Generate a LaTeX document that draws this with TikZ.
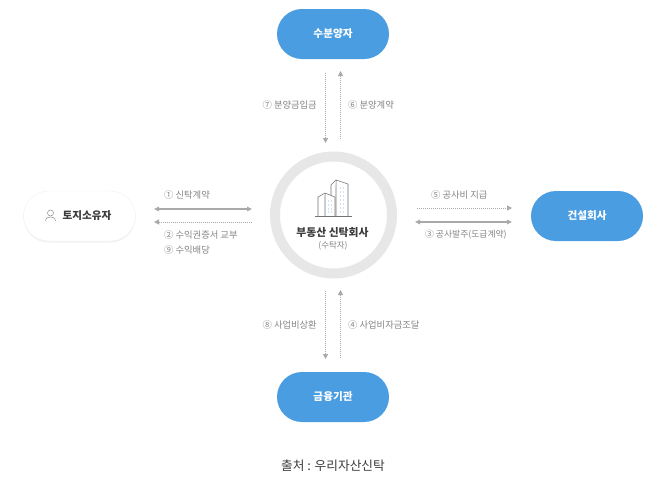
\documentclass[tikz,border=0pt]{standalone}
\usepackage{fontspec}
\setmainfont{Noto Sans CJK KR}
\usetikzlibrary{arrows.meta,shadows}
\definecolor{pillblue}{HTML}{4A9DE1}
\definecolor{ringgray}{HTML}{E7E7E7}
\definecolor{arrowgray}{HTML}{A9A9A9}
\definecolor{labelgray}{HTML}{858585}
\definecolor{darktxt}{HTML}{3C3C3C}
\definecolor{winblue}{HTML}{CFE2F3}
\tikzset{
  pill/.style={draw=none, fill=pillblue, rounded corners=25pt, minimum width=112pt, minimum height=50pt, text=white, font=\fontsize{10.6}{12}\selectfont\bfseries},
  owner/.style={pill, fill=white, draw=black!6, text=darktxt, drop shadow={shadow xshift=0pt, shadow yshift=-1.5pt, opacity=.1}},
  lbl/.style={text=labelgray, font=\fontsize{9.3}{11}\selectfont, inner sep=0pt},
  solidarr/.style={draw=arrowgray, line width=1.2pt, {Triangle[length=5pt,width=4.5pt]}-{Triangle[length=5pt,width=4.5pt]}},
  dotarr/.style={draw=arrowgray, line width=1pt, dash pattern=on 1pt off 1pt, -{Triangle[length=5pt,width=5pt,fill=arrowgray]}},
  bldg/.style={draw=black!55, line width=.55pt, fill=white, line join=round}}
\begin{document}
\begin{tikzpicture}[x=1pt, y=-1pt]
\useasboundingbox (0,0) rectangle (672,483);
\fill[white] (0,0) rectangle (672,483);
% pills
\node[pill] (buyer) at (333,34) {수분양자};
\node[pill] (bank) at (333,397) {금융기관};
\node[pill] (builder) at (587,216) {건설회사};
\node[owner] (land) at (79.5,216) {\hspace*{15pt}토지소유자};
% owner icon
\draw[draw=black!45, line width=.5pt] (50.5,213) circle (3pt);
\draw[draw=black!45, line width=.5pt] (45.5,221) .. controls (46,217.5) and (48,217) .. (50.5,217) .. controls (53,217) and (55,217.5) .. (55.5,221);
% centre circle
\node[circle, draw=ringgray, line width=10pt, fill=white, minimum size=117pt, inner sep=0pt] (trust) at (333.5,215) {};
\draw[bldg] (336,216) -- (336,180) -- (348,184) -- (348,216);
\draw[bldg] (331,216) -- (331,185) -- (336,180);
\draw[bldg] (325,216) -- (325,193) -- (335,197) -- (335,216);
\draw[bldg] (318,216) -- (318,197) -- (325,193);
\foreach \i in {0,...,6}
  \foreach \x in {339.5,342.5}
    \fill[winblue] (\x,187+4*\i) rectangle +(1.5,2);
\foreach \i in {0,...,3}
  \foreach \x in {327.5,330.5}
    \fill[winblue] (\x,200+3.8*\i) rectangle +(1.5,2);
\draw[draw=black!55, line width=.8pt] (315,216) -- (352,216);
\node[font=\fontsize{10.8}{12}\selectfont\bfseries, text=darktxt, inner sep=0pt] (trustname) at (332.5,232) {부동산 신탁회사};
\node[font=\fontsize{8.5}{10}\selectfont, text=labelgray, inner sep=0pt] (trustsub) at (333,246) {(수탁자)};
% free ends of the connectors
\foreach \n/\x/\y in {ta/325.5/73, tb/325.5/143, tc/340.5/139, td/340.5/71,
    ba/325.5/291, bb/325.5/359, bc/340.5/358, bd/340.5/290,
    la/154/209, lb/252/209, lc/252/222, ld/154/222,
    ra/417/208, rb/512/208, rc/415/222, rd/512/222}
  \coordinate (\n) at (\x,\y);
\draw[dotarr] (ta) -- (tb);
\draw[dotarr] (tc) -- (td);
\draw[dotarr] (ba) -- (bb);
\draw[dotarr] (bc) -- (bd);
\draw[solidarr] (la) -- (lb);
\draw[dotarr] (lc) -- (ld);
\draw[dotarr] (ra) -- (rb);
\draw[solidarr] (rc) -- (rd);
% labels
\node[lbl, anchor=east] (l7) at (317,105) {⑦ 분양금입금};
\node[lbl, anchor=west] (l6) at (348,105) {⑥ 분양계약};
\node[lbl, anchor=east] (l8) at (317,325) {⑧ 사업비상환};
\node[lbl, anchor=west] (l4) at (348,325) {④ 사업비자금조달};
\node[lbl, anchor=west] (l1) at (164,195) {① 신탁계약};
\node[lbl, anchor=west] (l2) at (164,235) {② 수익권증서 교부};
\node[lbl, anchor=west] (l9) at (164,250) {⑨ 수익배당};
\node[lbl, anchor=west] (l5) at (431,195) {⑤ 공사비 지급};
\node[lbl, anchor=west, font=\fontsize{8.8}{11}\selectfont] (l3) at (425,235) {③ 공사발주(도급계약)};
\node[font=\fontsize{12.7}{14}\selectfont, text=darktxt, inner sep=0pt] (source) at (333,466) {출처 : 우리자산신탁};
\end{tikzpicture}
\end{document}
